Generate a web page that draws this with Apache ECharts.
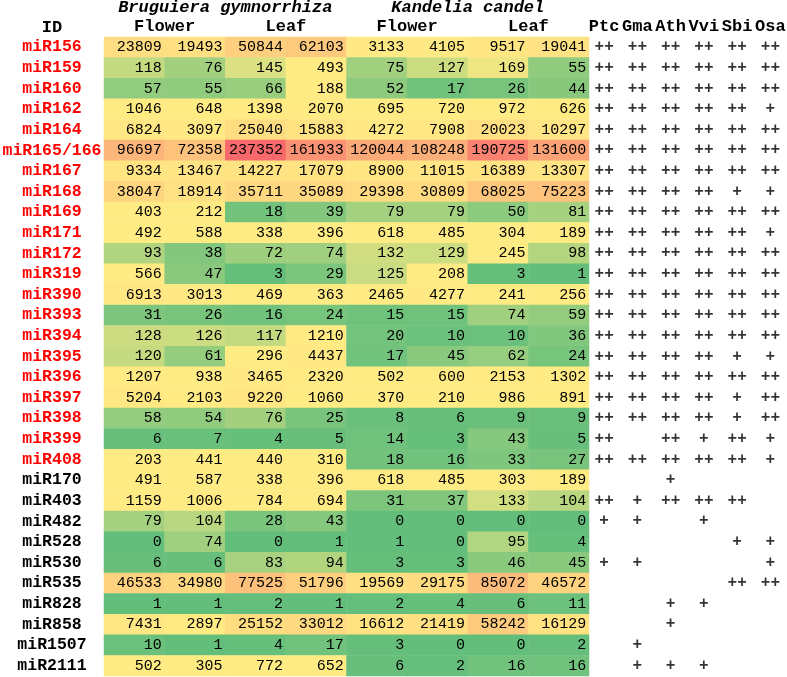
<!DOCTYPE html>
<html><head><meta charset="utf-8">
<script src="https://cdn.jsdelivr.net/npm/echarts@6/dist/echarts.min.js"></script>
<style>html,body{margin:0;padding:0;background:#fff}#c{width:787px;height:677px}</style>
</head><body><div id="c"></div>
<script>
const rowIds = ["miR156","miR159","miR160","miR162","miR164","miR165/166","miR167","miR168","miR169","miR171","miR172","miR319","miR390","miR393","miR394","miR395","miR396","miR397","miR398","miR399","miR408","miR170","miR403","miR482","miR528","miR530","miR535","miR828","miR858","miR1507","miR2111"];
const redRowCount = 21;
const sampleCols = ["BgF1","BgF2","BgL1","BgL2","KcF1","KcF2","KcL1","KcL2"];
const tissueLabels = ["Flower","Leaf","Flower","Leaf"];
const speciesLabels = ["Bruguiera gymnorrhiza","Kandelia candel"];
const plantCols = ["Ptc","Gma","Ath","Vvi","Sbi","Osa"];
const counts = [
 [23809,19493,50844,62103,3133,4105,9517,19041],
 [118,76,145,493,75,127,169,55],
 [57,55,66,188,52,17,26,44],
 [1046,648,1398,2070,695,720,972,626],
 [6824,3097,25040,15883,4272,7908,20023,10297],
 [96697,72358,237352,161933,120044,108248,190725,131600],
 [9334,13467,14227,17079,8900,11015,16389,13307],
 [38047,18914,35711,35089,29398,30809,68025,75223],
 [403,212,18,39,79,79,50,81],
 [492,588,338,396,618,485,304,189],
 [93,38,72,74,132,129,245,98],
 [566,47,3,29,125,208,3,1],
 [6913,3013,469,363,2465,4277,241,256],
 [31,26,16,24,15,15,74,59],
 [128,126,117,1210,20,10,10,36],
 [120,61,296,4437,17,45,62,24],
 [1207,938,3465,2320,502,600,2153,1302],
 [5204,2103,9220,1060,370,210,986,891],
 [58,54,76,25,8,6,9,9],
 [6,7,4,5,14,3,43,5],
 [203,441,440,310,18,16,33,27],
 [491,587,338,396,618,485,303,189],
 [1159,1006,784,694,31,37,133,104],
 [79,104,28,43,0,0,0,0],
 [0,74,0,1,1,0,95,4],
 [6,6,83,94,3,3,46,45],
 [46533,34980,77525,51796,19569,29175,85072,46572],
 [1,1,2,1,2,4,6,11],
 [7431,2897,25152,33012,16612,21419,58242,16129],
 [10,1,4,17,3,0,0,2],
 [502,305,772,652,6,2,16,16]
];
const conservation = [
 ["++","++","++","++","++","++"],
 ["++","++","++","++","++","++"],
 ["++","++","++","++","++","++"],
 ["++","++","++","++","++","+"],
 ["++","++","++","++","++","++"],
 ["++","++","++","++","++","++"],
 ["++","++","++","++","++","++"],
 ["++","++","++","++","+","+"],
 ["++","++","++","++","++","++"],
 ["++","++","++","++","++","+"],
 ["++","++","++","++","++","++"],
 ["++","++","++","++","++","++"],
 ["++","++","++","++","++","++"],
 ["++","++","++","++","++","++"],
 ["++","++","++","++","++","++"],
 ["++","++","++","++","+","+"],
 ["++","++","++","++","++","++"],
 ["++","++","++","++","+","++"],
 ["++","++","++","++","+","++"],
 ["++","","++","+","++","+"],
 ["++","++","++","++","++","+"],
 ["","","+","","",""],
 ["++","+","++","++","++",""],
 ["+","+","","+","",""],
 ["","","","","+","+"],
 ["+","+","","","","+"],
 ["","","","","++","++"],
 ["","","+","+","",""],
 ["","","+","","",""],
 ["","+","","","",""],
 ["","+","+","+","",""]
];

// Excel-style 3-colour scale: min green, 50th percentile yellow, max red
const all = counts.flat().slice().sort((a,b)=>a-b);
const vMin = all[0], vMax = all[all.length-1];
const pos = (all.length-1)*0.5, lo = Math.floor(pos);
const vMid = all[lo] + (all[Math.min(lo+1,all.length-1)]-all[lo])*(pos-lo);
const cLow=[0x63,0xBE,0x7B], cMid=[0xFF,0xEB,0x84], cHigh=[0xF8,0x69,0x6B];
function mix(a,b,t){return 'rgb('+a.map((x,i)=>Math.round(x+(b[i]-x)*t)).join(',')+')';}
function scaleColor(v){
  if(v<=vMid) return mix(cLow,cMid,(v-vMin)/(vMid-vMin||1));
  return mix(cMid,cHigh,(v-vMid)/(vMax-vMid||1));
}

const heatData=[];
counts.forEach((row,r)=>row.forEach((v,c)=>heatData.push({value:[c,r,v],itemStyle:{color:scaleColor(v)}})));
const plusData=[];
conservation.forEach((row,r)=>row.forEach((s,c)=>{if(s) plusData.push([c,r,s]);}));

const FONT='"Liberation Mono", monospace';
const hidden={show:false};

const chart=echarts.init(document.getElementById('c'),null,{renderer:'canvas'});
chart.setOption({
  animation:false,
  backgroundColor:'#ffffff',
  title:{text:'ID',left:52,top:19,padding:0,textAlign:'center',textStyle:{fontFamily:FONT,fontWeight:'bold',fontSize:17,color:'#000'}},
  grid:[
    {left:104,top:37,width:485,height:639,containLabel:false,outerBoundsMode:'none'},
    {left:587.5,top:37,width:199.5,height:639,containLabel:false,outerBoundsMode:'none'}
  ],
  xAxis:[
    {type:'category',gridIndex:0,data:sampleCols,show:false},
    {type:'category',gridIndex:0,data:tissueLabels,position:'top',axisLine:hidden,axisTick:hidden,splitLine:hidden,
     axisLabel:{interval:0,hideOverlap:false,margin:10,verticalAlign:'middle',fontFamily:FONT,fontWeight:'bold',fontSize:17,color:'#000'}},
    {type:'category',gridIndex:0,data:speciesLabels,position:'top',axisLine:hidden,axisTick:hidden,splitLine:hidden,
     axisLabel:{interval:0,hideOverlap:false,margin:29,verticalAlign:'middle',fontFamily:FONT,fontWeight:'bold',fontStyle:'italic',fontSize:17,color:'#000'}},
    {type:'category',gridIndex:1,data:plantCols,position:'top',axisLine:hidden,axisTick:hidden,splitLine:hidden,
     axisLabel:{interval:0,hideOverlap:false,margin:10,verticalAlign:'middle',fontFamily:FONT,fontWeight:'bold',fontSize:17,color:'#000'}}
  ],
  yAxis:[
    {type:'category',gridIndex:0,data:rowIds,inverse:true,axisLine:hidden,axisTick:hidden,splitLine:hidden,
     axisLabel:{interval:0,hideOverlap:false,align:'right',margin:0,
       formatter:(v,i)=>'{'+(i<redRowCount?'r':'k')+'|'+v+'}',
       rich:{
         r:{width:104,align:'center',color:'#FF0000',fontFamily:FONT,fontWeight:'bold',fontSize:16.5},
         k:{width:104,align:'center',color:'#000000',fontFamily:FONT,fontWeight:'bold',fontSize:16.5}
       }}},
    {type:'category',gridIndex:1,data:rowIds,inverse:true,show:false}
  ],
  series:[
    {type:'heatmap',xAxisIndex:0,yAxisIndex:0,data:heatData,
     label:{show:true,position:'insideRight',distance:3,formatter:p=>p.value[2],fontFamily:FONT,fontSize:15,color:'#000'},
     itemStyle:{borderWidth:0},emphasis:{disabled:true}},
    {type:'scatter',xAxisIndex:3,yAxisIndex:1,data:plusData,symbolSize:1,itemStyle:{color:'rgba(0,0,0,0)'},
     label:{show:true,position:'inside',formatter:p=>p.value[2],fontFamily:FONT,fontWeight:'bold',fontSize:16,color:'#000'},
     emphasis:{disabled:true}}
  ]
});
</script></body></html>
